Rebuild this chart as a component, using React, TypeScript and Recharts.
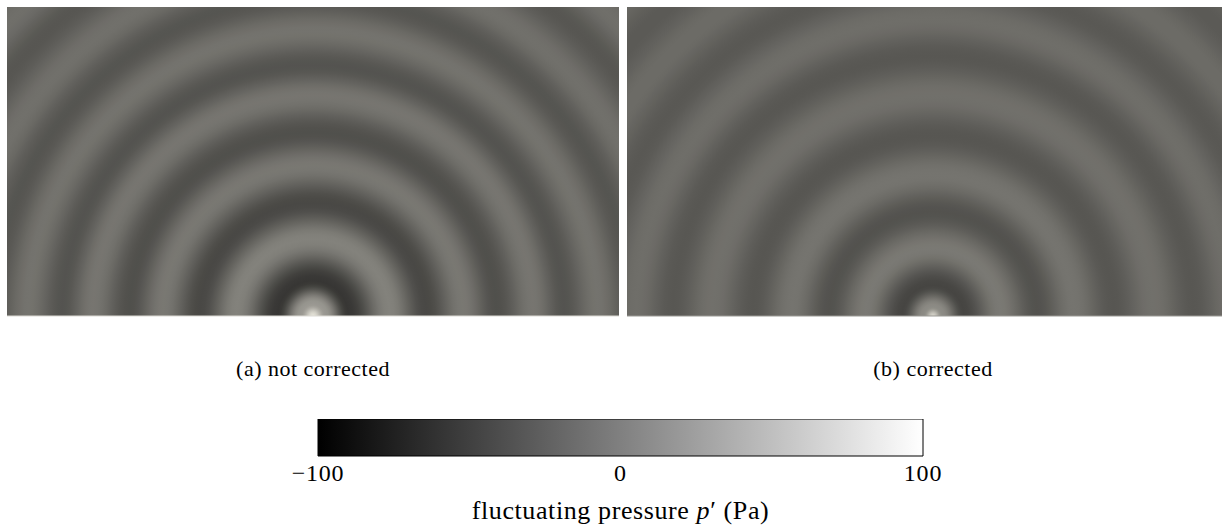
import { ScatterChart, Scatter, XAxis, YAxis, ReferenceArea, BarChart, Bar } from "recharts";

// panel domain: half-width of a panel = 1, source at the bottom centre
const panelX = [-1, 1];
const panelY = [0, 1.01];
const sourcePoint = [{ x: 0, y: 0 }];

// radial profile of p' (Pa): distance from source -> value (peaks and troughs)
const ringRadiusA = [0, 0.04, 0.115, 0.25, 0.37, 0.49, 0.6, 0.72, 0.82, 0.93, 1.04, 1.15, 1.27, 1.38, 1.5];
const pressureA = [78, 20, -57, 3, -43, -5, -37, -7, -34, -9, -33, -11, -32, -12, -31];

const ringRadiusB = [0, 0.03, 0.1, 0.22, 0.34, 0.46, 0.59, 0.72, 0.85, 0.97, 1.09, 1.21, 1.33, 1.45, 1.57];
const pressureB = [66, 10, -45, -4, -35, -8, -32, -11, -31, -13, -30, -15, -29, -16, -28];

const captions = ["(a) not corrected", "(b) corrected"];

const colorbarRange = [{ name: "p", range: [-100, 100] }];
const colorbarTicks = [-100, 0, 100];
const colorbarLevels = [-100, -50, 0, 50, 100];

const FONT = "'Liberation Serif', 'DejaVu Serif', serif";

function grayOf(p: number, tint = false) {
  const g = Math.max(0, Math.min(255, ((p + 100) / 200) * 255));
  if (!tint) return `rgb(${Math.round(g)},${Math.round(g)},${Math.round(g)})`;
  // rendered panels have a slightly warm cast
  return `rgb(${Math.round(g)},${Math.round(g * 0.99)},${Math.round(g * 0.945)})`;
}

// smooth (cosine) shading between the read-off peaks, like a curved line type
function smoothStops(radii: number[], values: number[]) {
  const rMax = radii[radii.length - 1];
  const out: { offset: number; color: string }[] = [];
  for (let i = 0; i < radii.length - 1; i++) {
    const steps = 8;
    for (let k = 0; k < steps; k++) {
      const t = k / steps;
      const e = (1 - Math.cos(Math.PI * t)) / 2;
      const r = radii[i] + (radii[i + 1] - radii[i]) * t;
      const p = values[i] + (values[i + 1] - values[i]) * e;
      out.push({ offset: r / rMax, color: grayOf(p, true) });
    }
  }
  out.push({ offset: 1, color: grayOf(values[values.length - 1], true) });
  return out;
}

function fieldShape(id: string, radii: number[], values: number[]) {
  return (props: any) => {
    const { x, y, width, height } = props;
    const pxPerUnit = width / (panelX[1] - panelX[0]);
    const cx = x + (sourcePoint[0].x - panelX[0]) * pxPerUnit;
    const cy = y + height - (sourcePoint[0].y - panelY[0]) * pxPerUnit;
    const rMax = radii[radii.length - 1];
    return (
      <g>
        <defs>
          <radialGradient id={id} gradientUnits="userSpaceOnUse" cx={cx} cy={cy} r={rMax * pxPerUnit}>
            {smoothStops(radii, values).map((s, i) => (
              <stop key={i} offset={s.offset} stopColor={s.color} />
            ))}
          </radialGradient>
        </defs>
        <rect x={x} y={y} width={width} height={height} fill={`url(#${id})`} />
      </g>
    );
  };
}

function Panel(props: { left: number; id: string; radii: number[]; values: number[]; axisColor: string }) {
  const { left, id, radii, values, axisColor } = props;
  return (
    <div style={{ position: "absolute", left, top: 7 }}>
      <ScatterChart width={612} height={319} margin={{ top: 0, right: 0, bottom: 0, left: 0 }}>
        <XAxis
          type="number"
          dataKey="x"
          domain={panelX}
          ticks={[0]}
          tick={false}
          tickSize={7}
          tickLine={{ stroke: "#c6c4bd", strokeWidth: 3 }}
          axisLine={{ stroke: axisColor }}
          height={10}
          allowDataOverflow
        />
        <YAxis type="number" dataKey="y" domain={panelY} hide allowDataOverflow />
        <ReferenceArea
          x1={panelX[0]}
          x2={panelX[1]}
          y1={panelY[0]}
          y2={panelY[1]}
          ifOverflow="visible"
          shape={fieldShape(id, radii, values)}
        />
        <Scatter data={sourcePoint} isAnimationActive={false} shape={() => <g />} />
      </ScatterChart>
    </div>
  );
}

const fmtTick = (v: number) => (v < 0 ? `\u2212${Math.abs(v)}` : `${v}`);

function ColorbarTick(props: any) {
  const { x, y, payload } = props;
  return (
    <text x={x} y={y + 25} textAnchor="middle" fontSize={24} letterSpacing={0.8} fontFamily={FONT} fill="#000">
      {fmtTick(payload.value)}
    </text>
  );
}

function ColorbarLabel(props: any) {
  const vb = props.viewBox || { x: 60, y: 37, width: 605 };
  return (
    <text
      x={vb.x + vb.width / 2}
      y={vb.y + 63}
      textAnchor="middle"
      fontSize={26}
      letterSpacing={0.6}
      fontFamily={FONT}
      fill="#000"
    >
      fluctuating pressure <tspan fontStyle="italic">p</tspan>
      {"\u2032 (Pa)"}
    </text>
  );
}

export default function App() {
  return (
    <div
      style={{
        position: "absolute",
        left: 0,
        top: 0,
        width: 1222,
        height: 525,
        overflow: "hidden",
        background: "#fff",
        fontFamily: FONT,
      }}
    >
      <Panel left={7} id="fieldA" radii={ringRadiusA} values={pressureA} axisColor="#dcdad4" />
      <Panel left={627} id="fieldB" radii={ringRadiusB} values={pressureB} axisColor="#9a9994" />

      {captions.map((c, i) => (
        <div
          key={c}
          style={{
            position: "absolute",
            left: (i === 0 ? 313 : 933) - 150,
            top: 356,
            width: 300,
            textAlign: "center",
            fontSize: 22,
            letterSpacing: 0.5,
            lineHeight: "26px",
            color: "#000",
          }}
        >
          {c}
        </div>
      ))}

      <div style={{ position: "absolute", left: 258, top: 419 }}>
        <BarChart
          width={725}
          height={130}
          layout="vertical"
          data={colorbarRange}
          margin={{ top: 0, right: 60, bottom: 0, left: 60 }}
          barCategoryGap={0}
        >
          <defs>
            <linearGradient id="cbar" x1="0" y1="0" x2="1" y2="0">
              {colorbarLevels.map((p) => (
                <stop key={p} offset={(p + 100) / 200} stopColor={grayOf(p)} />
              ))}
            </linearGradient>
          </defs>
          <XAxis
            type="number"
            domain={[-100, 100]}
            ticks={colorbarTicks}
            tickLine={false}
            axisLine={false}
            tickSize={0}
            tickMargin={0}
            tick={<ColorbarTick />}
            height={93}
            label={<ColorbarLabel />}
          />
          <YAxis type="category" dataKey="name" hide />
          <Bar dataKey="range" fill="url(#cbar)" stroke="#000" strokeWidth={1} isAnimationActive={false} />
        </BarChart>
      </div>
    </div>
  );
}
